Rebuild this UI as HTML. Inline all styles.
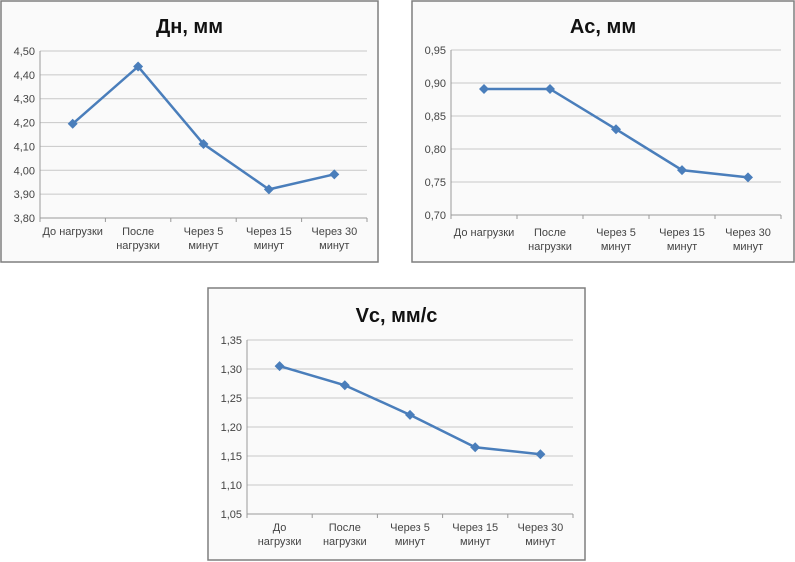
<!DOCTYPE html>
<html><head><meta charset="utf-8"><style>
body{margin:0;background:#fff;width:795px;height:562px;overflow:hidden;font-family:"Liberation Sans",sans-serif}
svg{position:absolute;left:0;top:0}
</style></head><body>
<svg id="s" width="795" height="562"></svg>
<script>
const categories=[["До нагрузки"],["После","нагрузки"],["Через 5","минут"],["Через 15","минут"],["Через 30","минут"]];
const categories3=[["До","нагрузки"],["После","нагрузки"],["Через 5","минут"],["Через 15","минут"],["Через 30","минут"]];
const dnValues=[4.195,4.435,4.11,3.92,3.983];
const acValues=[0.891,0.891,0.830,0.768,0.757];
const vcValues=[1.305,1.272,1.221,1.165,1.153];
const dnTicks=[3.8,3.9,4.0,4.1,4.2,4.3,4.4,4.5];
const acTicks=[0.70,0.75,0.80,0.85,0.90,0.95];
const vcTicks=[1.05,1.10,1.15,1.20,1.25,1.30,1.35];
const NS="http://www.w3.org/2000/svg";
const svg=document.getElementById('s');
function mk(t,a,p){const e=document.createElementNS(NS,t);for(const k in a)e.setAttribute(k,a[k]);(p||svg).appendChild(e);return e;}
function chart(o){
  const g=mk('g',{});
  
  
  mk('rect',{x:o.bx,y:o.by,width:o.bw,height:o.bh,fill:'#fafafa',stroke:'#7f7f7f','stroke-width':1.5},g);
  const t=mk('text',{x:o.bx+o.bw/2,y:o.ty,'text-anchor':'middle','font-size':20,'font-weight':'bold',fill:'#111'},g);
  t.textContent=o.title;
  
  
  const lo=o.ticks[0],hi=o.ticks[o.ticks.length-1];
  const y=v=>o.y1-(v-lo)/(hi-lo)*(o.y1-o.y0);
  const bw=(o.x1-o.x0)/o.cats.length;
  const x=i=>o.x0+bw*(i+0.5);
  o.ticks.forEach(v=>{
    const ln=mk('line',{x1:o.x0,x2:o.x1,y1:y(v),y2:y(v),stroke:v===lo?'#999':'#c8c8c8','stroke-width':1},g);
    
    
    const tl=mk('text',{x:o.x0-5,y:y(v)+4,'text-anchor':'end','font-size':11,fill:'#444'},g);
    tl.textContent=v.toFixed(2).replace('.',',');
    
    
  });
  mk('line',{x1:o.x0,x2:o.x0,y1:o.y0,y2:o.y1,stroke:'#999'},g);
  for(let i=0;i<=o.cats.length;i++)mk('line',{x1:o.x0+bw*i,x2:o.x0+bw*i,y1:o.y1,y2:o.y1+4,stroke:'#999'},g);
  o.cats.forEach((c,i)=>{c.forEach((s,j)=>{
    const tl=mk('text',{x:x(i),y:o.y1+o.lo+j*14,'text-anchor':'middle','font-size':11,fill:'#444'},g);
    tl.textContent=s;
    
    
  });});
  const pl=mk('polyline',{points:o.vals.map((v,i)=>x(i)+','+y(v)).join(' '),fill:'none',stroke:'#4a7ebb','stroke-width':2.5},g);
  
  
  o.vals.forEach((v,i)=>{
    const m=mk('path',{d:`M${x(i)},${y(v)-5}l5,5l-5,5l-5,-5z`,fill:'#4a7ebb'},g);
    
    
  });
}
chart({name:'dn-chart',title:'Дн, мм',bx:1,by:1,bw:377,bh:261,ty:33,x0:40,x1:367,y0:51,y1:218,lo:17,ticks:dnTicks,vals:dnValues,cats:categories});
chart({name:'ac-chart',title:'Ac, мм',bx:412,by:1,bw:382,bh:261,ty:33,x0:451,x1:781,y0:50,y1:215,lo:21,ticks:acTicks,vals:acValues,cats:categories});
chart({name:'vc-chart',title:'Vc, мм/с',bx:208,by:288,bw:377,bh:272,ty:322,x0:247,x1:573,y0:340,y1:514,lo:17,ticks:vcTicks,vals:vcValues,cats:categories3});
</script>
</body></html>
